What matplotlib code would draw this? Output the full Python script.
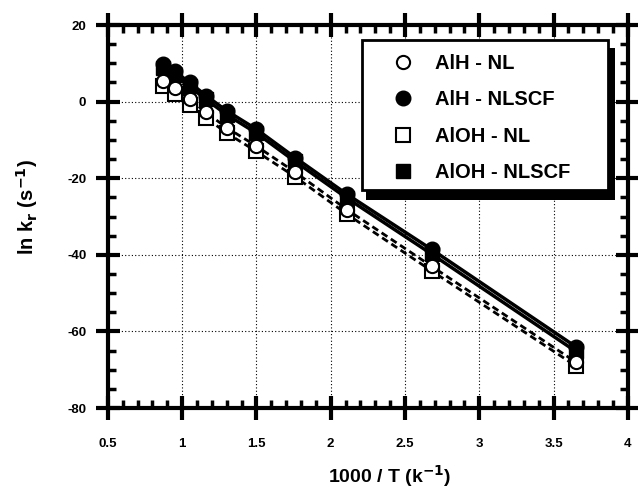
import numpy as np
from matplotlib import pyplot as plt
from matplotlib.patches import Rectangle
from matplotlib.ticker import MultipleLocator

plt.rcParams['font.family'] = ['Liberation Sans', 'DejaVu Sans']
plt.rcParams['font.weight'] = 'bold'
plt.rcParams['mathtext.default'] = 'bf'
plt.rcParams['axes.unicode_minus'] = False

# 1000/T values and ln k_r for the four series
inv_t = [0.87, 0.95, 1.05, 1.16, 1.30, 1.50, 1.76, 2.11, 2.68, 3.65]
alh_nlscf = [9.8, 7.9, 5.0, 1.6, -2.4, -7.2, -14.6, -24.2, -38.6, -64.0]
aloh_nlscf = [8.8, 6.9, 4.0, 0.6, -3.4, -8.2, -15.6, -25.2, -39.8, -65.2]
alh_nl = [5.5, 3.5, 0.6, -2.8, -6.8, -11.6, -18.4, -28.2, -43.0, -68.0]
aloh_nl = [4.0, 2.0, -0.8, -4.2, -8.2, -13.0, -19.6, -29.4, -44.2, -69.0]

fig = plt.figure(figsize=(6.38, 4.91), dpi=100)
ax = fig.add_axes([0.169, 0.169, 0.815, 0.780])

# lines first
ax.plot(inv_t, alh_nl, color='black', lw=2, ls=(0, (2.5, 1.5)), zorder=2)
ax.plot(inv_t, aloh_nl, color='black', lw=2, ls=(0, (2.5, 1.5)), zorder=2)
ax.plot(inv_t, alh_nlscf, color='black', lw=2.5, zorder=2)
ax.plot(inv_t, aloh_nlscf, color='black', lw=2.5, zorder=2)

ms = 9.5
ax.plot(inv_t, aloh_nlscf, 's', color='black', ms=ms, ls='none', label='AlOH - NLSCF', zorder=3)
ax.plot(inv_t, alh_nlscf, 'o', color='black', ms=ms + 1, ls='none', label='AlH - NLSCF', zorder=3)
ax.plot(inv_t, aloh_nl, 's', mfc='white', mec='black', mew=1.5, ms=ms, ls='none', label='AlOH - NL', zorder=4)
ax.plot(inv_t, alh_nl, 'o', mfc='white', mec='black', mew=1.5, ms=ms, ls='none', label='AlH - NL', zorder=4)

ax.set_xlim(0.5, 4)
ax.set_ylim(-80, 20)
ax.xaxis.set_major_locator(MultipleLocator(0.5))
ax.xaxis.set_minor_locator(MultipleLocator(0.1))
ax.yaxis.set_major_locator(MultipleLocator(20))
ax.yaxis.set_minor_locator(MultipleLocator(5))
ax.xaxis.set_major_formatter(plt.FuncFormatter(lambda v, p: '%g' % v))

for s in ax.spines.values():
    s.set_linewidth(3)
ax.tick_params(which='major', direction='inout', length=17, width=3,
               top=True, right=True, labelsize=9.5)
ax.tick_params(axis='x', which='major', pad=13)
ax.tick_params(axis='y', which='major', pad=7)
ax.tick_params(which='minor', direction='in', length=6, width=2.5,
               top=True, right=True)
ax.grid(True, which='major', color='black', ls=(0, (1, 2)), lw=0.8)

ax.set_xlabel('1000 / T (k$^{-1}$)', fontsize=14, fontweight='bold', va='center')
ax.set_ylabel('ln k$_r$ (s$^{-1}$)', fontsize=14.5, fontweight='bold')
ax.xaxis.set_label_coords(0.542, -0.178)
ax.yaxis.set_label_coords(-0.13, 0.525)

# legend box with a heavy drop shadow, drawn by hand
def px(x, y):
    return ((x - 108) / 520, (408 - y) / 383)

x0, y0 = px(362, 190)
x1, y1 = px(608, 40)
sx0, sy0 = px(366, 200)
sx1, sy1 = px(615, 48)
ax.add_patch(Rectangle((sx0, sy0), sx1 - sx0, sy1 - sy0, transform=ax.transAxes,
                       facecolor='black', edgecolor='none', zorder=5, clip_on=False))
ax.add_patch(Rectangle((x0, y0), x1 - x0, y1 - y0, transform=ax.transAxes,
                       facecolor='white', edgecolor='black', lw=2, zorder=5.2,
                       clip_on=False))

handles, labels = ax.get_legend_handles_labels()
order = [3, 1, 2, 0]
lx, ly = px(391, 54)
leg = ax.legend([handles[i] for i in order], [labels[i] for i in order],
                loc='upper left', bbox_to_anchor=(lx, ly),
                fontsize=14.5, frameon=False, labelspacing=0.86,
                handletextpad=1.0, borderpad=0, borderaxespad=0,
                handlelength=1.2)
leg.set_zorder(6)

fig.savefig('out.png', dpi=100)
